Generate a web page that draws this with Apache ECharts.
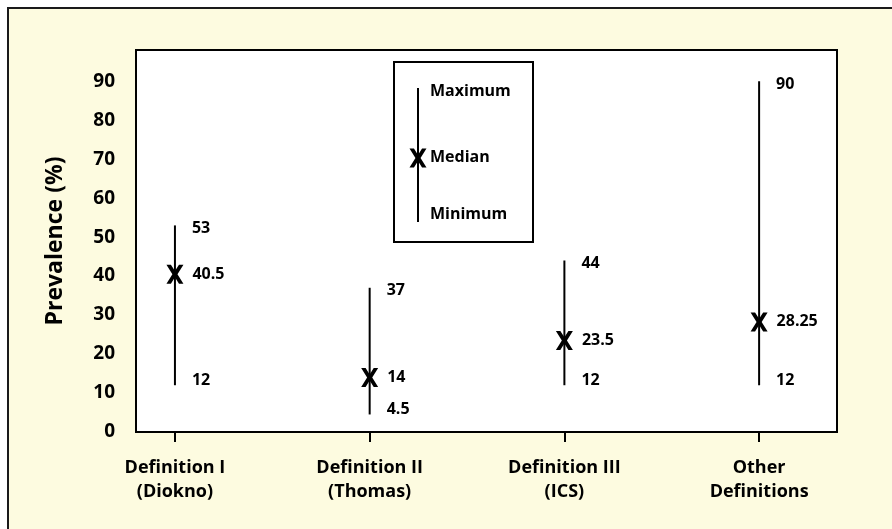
<!DOCTYPE html>
<html>
<head>
<meta charset="utf-8">
<script src="https://cdn.jsdelivr.net/npm/echarts@6/dist/echarts.min.js"></script>
<style>
html,body{margin:0;padding:0;background:#ffffff;}
#chart{width:892px;height:529px;}
</style>
</head>
<body>
<div id="chart"></div>
<script>
const categories = ['Definition I\n(Diokno)', 'Definition II\n(Thomas)', 'Definition III\n(ICS)', 'Other\nDefinitions'];
const minimum = [12, 4.5, 12, 12];
const median = [40.5, 14, 23.5, 28.25];
const maximum = [53, 37, 44, 90];
const yTicks = [0, 10, 20, 30, 40, 50, 60, 70, 80, 90];
const xTicks = [0, 1, 2, 3];
const legendLabels = ['Maximum', 'Median', 'Minimum'];

const FONT = 'Open Sans';
const X_PATH = 'path://M0,0 L4.2,0 L8,6.8 L11.8,0 L16,0 L10.4,10 L16,20 L11.8,20 L8,13.2 L4.2,20 L0,20 L5.6,10 Z';
const xPts = [[0,0],[4.2,0],[8,6.8],[11.8,0],[16,0],[10.4,10],[16,20],[11.8,20],[8,13.2],[4.2,20],[0,20],[5.6,10]];

const chart = echarts.init(document.getElementById('chart'), null, {renderer: 'canvas'});

const labelStyle = {color: '#000', fontFamily: FONT, fontWeight: 'bold', fontSize: 16, opacity: 1};

const lx = 418, ly = 158;
const option = {
  backgroundColor: '#ffffff',
  animation: false,
  grid: {left: 136, right: 55, top: 50, bottom: 97, show: true, borderColor: '#000', borderWidth: 2, backgroundColor: '#ffffff', z: 1},
  xAxis: {
    type: 'value', min: -0.2, max: 3.4,
    axisLine: {show: true, lineStyle: {color: '#000', width: 2}},
    axisTick: {show: true, customValues: xTicks, length: 10, lineStyle: {color: '#000', width: 2}},
    axisLabel: {customValues: xTicks, formatter: v => categories[Math.round(v)], color: '#000', fontFamily: FONT, fontWeight: 'bold', fontSize: 18, lineHeight: 24, margin: 24},
    splitLine: {show: false}
  },
  yAxis: {
    type: 'value', min: 0, max: 98,
    name: 'Prevalence (%)', nameLocation: 'middle', nameRotate: 90, nameGap: 69,
    nameTextStyle: {color: '#000', fontFamily: FONT, fontWeight: 'bold', fontSize: 23},
    axisLine: {show: true, lineStyle: {color: '#000', width: 2}},
    axisTick: {show: true, customValues: yTicks, length: 11, lineStyle: {color: '#000', width: 2}},
    axisLabel: {customValues: yTicks, color: '#000', fontFamily: FONT, fontWeight: 'bold', fontSize: 19, margin: 21},
    splitLine: {show: false}
  },
  graphic: [
    {type: 'rect', z: -10, shape: {x: 8, y: 8, width: 900, height: 540}, style: {fill: '#FDFBE0', stroke: '#1a1a1a', lineWidth: 2}},
    {type: 'rect', z: 10, shape: {x: 394, y: 62, width: 139, height: 180}, style: {fill: '#ffffff', stroke: '#000', lineWidth: 2}},
    {type: 'line', z: 11, shape: {x1: lx, y1: 88, x2: lx, y2: 222}, style: {stroke: '#000', lineWidth: 2}},
    {type: 'polygon', z: 12, shape: {points: xPts.map(p => [lx - 8.5 + p[0] * 17 / 16, ly - 9.5 + p[1] * 19 / 20])}, style: {fill: '#000'}},
    {type: 'text', z: 12, x: 430, y: 91, style: {text: legendLabels[0], fill: '#000', font: 'bold 16px "' + FONT + '"', verticalAlign: 'middle'}},
    {type: 'text', z: 12, x: 430, y: 157, style: {text: legendLabels[1], fill: '#000', font: 'bold 16px "' + FONT + '"', verticalAlign: 'middle'}},
    {type: 'text', z: 12, x: 430, y: 214, style: {text: legendLabels[2], fill: '#000', font: 'bold 16px "' + FONT + '"', verticalAlign: 'middle'}}
  ],
  series: [
    {
      type: 'custom',
      z: 5,
      data: categories.map((c, i) => [i, minimum[i], maximum[i]]),
      encode: {x: 0, y: [1, 2]},
      renderItem: function (params, api) {
        const p1 = api.coord([api.value(0), api.value(1)]);
        const p2 = api.coord([api.value(0), api.value(2)]);
        return {type: 'line', shape: {x1: p1[0], y1: p1[1], x2: p2[0], y2: p2[1]}, style: {stroke: '#000', lineWidth: 2}};
      }
    },
    {
      type: 'scatter', z: 6,
      data: median.map((v, i) => [i, v]),
      symbol: X_PATH, symbolSize: [17, 19],
      itemStyle: {color: '#000', opacity: 1},
      label: Object.assign({show: true, position: 'right', distance: 9, formatter: p => String(p.value[1])}, labelStyle)
    },
    {
      type: 'scatter', z: 6,
      data: maximum.map((v, i) => [i, v]),
      symbol: 'circle', symbolSize: 0.01,
      itemStyle: {color: '#000', opacity: 1},
      label: Object.assign({show: true, position: 'right', distance: 17, offset: [0, 3], formatter: p => String(p.value[1])}, labelStyle)
    },
    {
      type: 'scatter', z: 6,
      data: minimum.map((v, i) => [i, v]),
      symbol: 'circle', symbolSize: 0.01,
      itemStyle: {color: '#000', opacity: 1},
      label: Object.assign({show: true, position: 'right', distance: 17, offset: [0, -5], formatter: p => String(p.value[1])}, labelStyle)
    }
  ]
};
chart.setOption(option);
</script>
</body>
</html>
